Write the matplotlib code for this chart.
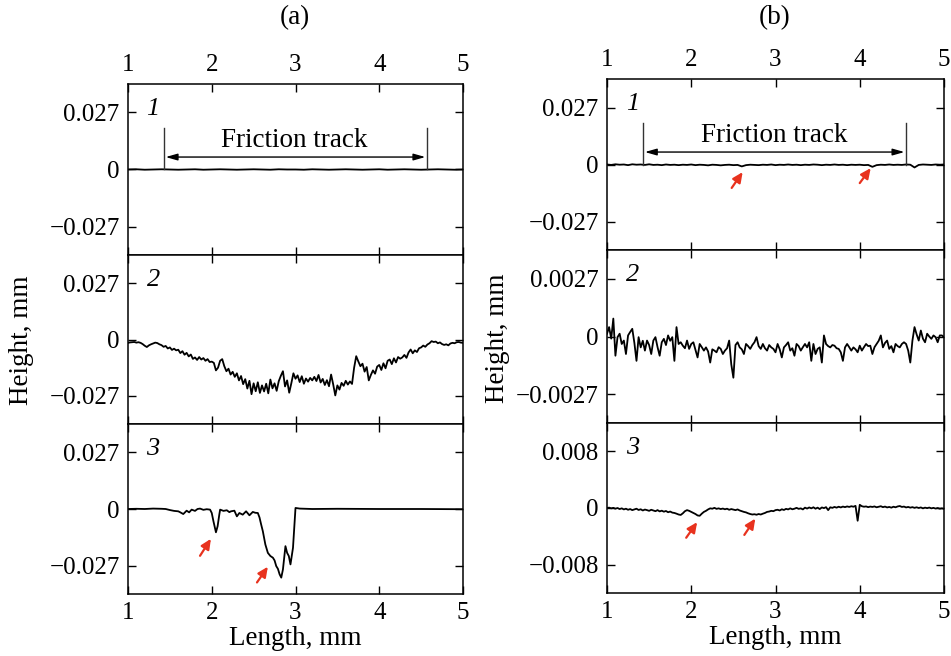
import numpy as np
import matplotlib
matplotlib.use('Agg')
import matplotlib.pyplot as plt

plt.rcParams['font.family'] = ['Liberation Serif', 'DejaVu Serif']
plt.rcParams['mathtext.fontset'] = 'stix'

# profile heights in micrometres, sampled evenly from 1 to 5 mm
a1_um = [0.0, 0.1, -0.1, 0.0, 0.1, 0.0, -0.1, 0.0, 0.1, -0.1, 0.0, 0.1, 0.0, -0.1,
         0.0, 0.1, 0.0, -0.1, 0.1, 0.0, 0.0, -0.1, 0.1, 0.0, -0.1, 0.0, 0.1, 0.0,
         -0.1, 0.0, 0.1, -0.1, 0.0, 0.1, 0.0, -0.1, 0.0, 0.1, 0.0, -0.1, 0.0]

a2_um = [-1.6, -1.4, -1.3, -1.2, -1.5, -1.3, -1.6, -2.2, -3.0, -3.6,
         -2.8, -2.3, -1.9, -1.5, -1.7, -2.3, -2.7, -3.5, -3.1, -4.3,
         -3.8, -5.0, -4.4, -5.2, -4.9, -6.5, -5.6, -7.3, -6.4, -8.1,
         -7.2, -9.3, -8.6, -9.8, -8.4, -9.6, -8.9, -10.2, -9.4, -10.8,
         -10.6, -11.2, -14.8, -13.5, -10.2, -9.4, -12.8, -15.2, -14.0, -16.8,
         -15.5, -17.9, -16.2, -19.6, -17.5, -21.4, -19.0, -23.5, -19.8, -26.2,
         -21.0, -24.8, -20.5, -25.6, -22.0, -24.9, -21.2, -25.8, -19.2, -23.4,
         -21.0, -24.6, -20.0, -17.4, -15.2, -22.5, -19.6, -25.5, -21.0, -16.2,
         -18.8, -17.2, -20.4, -17.6, -21.2, -18.7, -20.2, -18.4, -19.6, -17.9,
         -19.9, -17.0, -20.6, -18.9, -21.8, -19.5, -22.4, -16.8, -21.5, -26.8,
         -22.0, -24.0, -20.8, -22.2, -19.8, -21.6, -20.1, -21.3, -13.5, -8.0,
         -10.5, -12.8, -11.6, -15.4, -13.2, -19.6, -17.0, -14.8, -16.4, -13.0,
         -12.2, -14.6, -11.4, -13.8, -10.2, -9.6, -11.8, -9.0, -11.0, -8.4,
         -9.2, -8.6, -7.4, -8.8, -6.2, -4.8, -6.6, -5.2, -6.0, -4.2,
         -3.8, -2.9, -3.5, -2.4, -1.8, -0.8, -1.2, -1.0, -1.8, -1.4,
         -2.2, -2.6, -2.3, -2.8, -1.9, -1.6, -1.8, -1.3, -1.2, -1.5, -1.6]

a3_x = [1.0, 1.1, 1.2, 1.3, 1.4, 1.45, 1.5, 1.55, 1.6, 1.62, 1.66, 1.70, 1.73, 1.76,
        1.80, 1.83, 1.86, 1.90, 1.94, 1.98, 2.00, 2.02, 2.05, 2.07, 2.09, 2.10, 2.14,
        2.18, 2.21, 2.23, 2.27, 2.30, 2.33, 2.37, 2.41, 2.45, 2.49, 2.52, 2.55, 2.57,
        2.59, 2.61, 2.64, 2.67, 2.70, 2.73, 2.75, 2.77, 2.79, 2.81, 2.83, 2.85, 2.88,
        2.90, 2.92, 2.94, 2.97, 3.00, 3.05, 3.2, 3.5, 4.0, 4.5, 5.0]
a3_um = [0.0, 0.1, 0.0, 0.2, 0.1, 0.0, -0.5, -0.9, -1.1, -1.5, -2.4, -0.8, -1.6, -0.3,
         -0.9, 0.0, 0.2, -0.4, -0.1, -0.3, -1.9, -5.8, -11.1, -8.2, -2.7, -0.3, -0.9,
         -0.6, -1.5, -1.1, -0.8, -3.5, -1.9, -2.7, -1.1, -3.0, -1.4, -1.8, -1.9, -4.0,
         -7.4, -10.6, -16.9, -20.9, -22.4, -23.2, -24.5, -27.2, -28.5, -31.1, -32.7, -28.8, -17.7,
         -20.9, -22.4, -26.4, -18.5, 0.5, 0.2, 0.0, 0.1, 0.0, 0.0, -0.1]

b1_um = [0.0, -0.2, 0.1, -0.1, 0.0, -0.3, 0.1, -0.1, 0.0, -0.2, 0.1, -0.2, -0.1, -0.3,
         0.0, -0.2, -0.1, -0.3, -0.1, -0.2, 0.0, -0.3, -0.1, -0.2, -0.4, -0.1, -0.2,
         -0.4, -0.2, -0.1, -0.3, -0.2, -0.9, -0.3, -0.1, -0.2, -0.3, -0.1, -0.2, 0.0,
         -0.3, -0.1, -0.2, 0.0, -0.2, -0.1, -0.3, -0.1, -0.2, 0.0, -0.1, -0.3, -0.1,
         -0.2, 0.0, -0.2, -0.1, -0.3, -0.1, -0.2, -0.1, -0.3, -0.2, -1.1, -0.3, -0.1,
         -0.2, 0.0, -0.2, -0.1, -0.2, 0.0, -0.1, -1.4, -0.2, 0.0, -0.1, -0.2, 0.0, -0.1, 0.0]

b2_um = [0.13, 0.44, -0.10, 0.84, -0.90, -0.03, 0.13, -0.35, -0.19, -0.82,
         0.05, 0.21, 0.36, -0.30, -1.14, -0.03, -0.51, -0.20, -0.66, -0.19,
         -0.40, -0.82, -0.19, -0.03, -0.50, -0.90, -0.27, -0.11, -0.40, 0.05,
         -0.20, -0.03, -1.14, 0.44, -0.35, -0.27, -0.43, -0.55, -0.19, -0.58,
         -0.35, -0.27, -0.62, -0.98, -0.35, -0.50, -0.66, -0.51, -0.70, -1.22,
         -0.60, -0.66, -0.74, -0.50, -0.58, -0.82, -0.66, -0.55, -0.19, -1.30,
         -1.93, -0.40, -0.27, -0.51, -0.60, -0.82, -0.35, -0.45, -0.58, -0.40,
         -0.27, -0.03, -0.45, -0.58, -0.35, -0.55, -0.66, -0.40, -0.51, -0.58,
         -0.74, -0.35, -0.60, -0.98, -0.51, -0.40, -0.27, -0.66, -0.55, -0.90,
         -0.35, -0.45, -0.66, -0.50, -0.35, -0.51, -0.27, -1.14, -0.35, -0.82,
         -0.58, -0.51, -1.22, 0.05, -0.35, -0.45, -0.51, -0.40, -0.43, -0.55,
         -0.58, -0.74, -1.14, -0.51, -0.35, -0.50, -0.66, -0.51, -0.60, -0.74,
         -0.43, -0.66, -0.50, -0.35, -0.45, -0.43, -0.82, -0.50, -0.35, -0.20,
         0.05, -0.51, -0.30, -0.19, -0.58, -0.45, -0.74, -0.35, -0.45, -0.51,
         -0.35, -0.27, -0.35, -0.66, -1.22, -0.20, 0.44, 0.10, -0.19, 0.28,
         -0.10, -0.27, 0.13, 0.00, -0.11, 0.05, -0.03, -0.27, 0.05, 0.05, -0.03]

b3_um = [0.00, 0.05, -0.05, 0.02, -0.10, 0.00, -0.15, -0.05, -0.20, -0.10,
         -0.25, -0.15, -0.30, -0.20, -0.10, -0.28, -0.18, -0.35, -0.22, -0.30,
         -0.40, -0.25, -0.35, -0.45, -0.30, -0.48, -0.38, -0.52, -0.42, -0.60,
         -0.50, -0.65, -0.70, -0.80, -0.92, -0.98, -0.75, -0.45, -0.30, -0.40,
         -0.55, -0.70, -0.85, -1.05, -1.10, -0.80, -0.55, -0.40, -0.20, -0.05,
         -0.10, 0.02, -0.12, -0.05, -0.15, -0.08, -0.18, -0.10, -0.25, -0.15,
         -0.22, -0.30, -0.20, -0.35, -0.45, -0.55, -0.62, -0.75, -0.85, -0.92,
         -0.88, -0.95, -0.85, -0.92, -0.80, -0.70, -0.55, -0.50, -0.40, -0.45,
         -0.30, -0.25, -0.35, -0.18, -0.28, -0.12, -0.20, -0.05, -0.18, -0.10,
         0.02, -0.12, -0.05, -0.20, 0.05, -0.08, 0.08, -0.05, 0.10, -0.10,
         0.05, -0.15, 0.08, -0.02, 0.12, -0.30, 0.10, 0.02, 0.15, 0.05,
         0.18, 0.08, 0.20, 0.12, 0.22, 0.15, 0.25, 0.18, 0.30, -1.80,
         0.45, 0.25, 0.18, 0.22, 0.12, 0.20, 0.15, 0.22, 0.10, 0.18,
         0.25, 0.12, 0.20, 0.08, 0.15, 0.05, 0.18, 0.10, 0.22, 0.28,
         0.15, 0.20, 0.08, 0.15, 0.05, 0.12, 0.02, 0.10, 0.00, 0.08,
         -0.05, 0.05, -0.02, 0.06, -0.05, 0.02, -0.08, 0.00, -0.10, -0.05, -0.12]

# y tick values/labels of each row
ticks_a = [0.027, 0, -0.027]
labels_a = ['0.027', '0', '\u22120.027']
ticks_b2 = [0.0027, 0, -0.0027]
labels_b2 = ['0.0027', '0', '\u22120.0027']
ticks_b3 = [0.008, 0, -0.008]
labels_b3 = ['0.008', '0', '\u22120.008']
x_ticks = [1, 2, 3, 4, 5]

# red arrows (tail x, tail y, head x, head y) in data units
arrows_b1 = [(2.48, -0.0111, 2.61, -0.0036), (4.00, -0.0088, 4.13, -0.0017)]
arrows_a3 = [(1.86, -0.0223, 1.99, -0.0142), (2.54, -0.0350, 2.67, -0.0275)]
arrows_b3 = [(1.94, -0.0042, 2.07, -0.0020), (2.63, -0.0038, 2.76, -0.0015)]

W, H = 951, 656
fig = plt.figure(figsize=(W / 100, H / 100), dpi=100)


def box(x0, x1, y0, y1):
    return [x0 / W, 1 - y1 / H, (x1 - x0) / W, (y1 - y0) / H]


axes_a = [fig.add_axes(box(128, 463, 84, 255)),
          fig.add_axes(box(128, 463, 255, 424)),
          fig.add_axes(box(128, 463, 424, 594))]
axes_b = [fig.add_axes(box(607, 944, 79, 250)),
          fig.add_axes(box(607, 944, 250, 423)),
          fig.add_axes(box(607, 944, 423, 593))]

lw = 1.3
# left column
axes_a[0].plot(np.linspace(1, 5, len(a1_um)), np.array(a1_um) / 1000, color='black', lw=lw)
axes_a[1].plot(np.linspace(1, 5, len(a2_um)), np.array(a2_um) / 1000, color='black', lw=lw)
axes_a[2].plot(a3_x, np.array(a3_um) / 1000, color='black', lw=lw)
# right column
axes_b[0].plot(np.linspace(1, 5, len(b1_um)), np.array(b1_um) / 1000, color='black', lw=lw)
axes_b[1].plot(np.linspace(1, 5, len(b2_um)), np.array(b2_um) / 1000, color='black', lw=lw)
axes_b[2].plot(np.linspace(1, 5, len(b3_um)), np.array(b3_um) / 1000, color='black', lw=lw)

ylims = [0.0405, 0.0405, 0.0405, 0.0405, 0.00405, 0.012]
yticks = [ticks_a, ticks_a, ticks_a, ticks_a, ticks_b2, ticks_b3]
ylabels = [labels_a, labels_a, labels_a, labels_a, labels_b2, labels_b3]

for k, ax in enumerate(axes_a + axes_b):
    row = k % 3
    ax.set_xlim(1, 5)
    ax.set_ylim(-ylims[k], ylims[k])
    ax.set_xticks(x_ticks)
    ax.set_xticklabels([str(t) for t in x_ticks])
    ax.set_yticks(yticks[k])
    ax.set_yticklabels(ylabels[k])
    ax.tick_params(direction='in', length=6, width=1.0, labelsize=18,
                   top=True, right=True, pad=6,
                   labeltop=(row == 0), labelbottom=(row == 2))
    for s in ax.spines.values():
        s.set_linewidth(1.1)
    ax.text(0.075, 0.855, str(row + 1), transform=ax.transAxes, fontsize=19,
            style='italic', ha='center', va='center')
    if row == 2:
        ax.set_xlabel('Length, mm', fontsize=19.5, labelpad=1)

# friction track markers on the top panels
for ax, xr in [(axes_a[0], 4.57), (axes_b[0], 4.55)]:
    ax.plot([1.43, 1.43], [0, 0.0197], color='#333333', lw=1.0)
    ax.plot([xr, xr], [0, 0.0197], color='#333333', lw=1.0)
    ax.annotate('', xy=(1.45, 0.0059), xytext=(xr - 0.02, 0.0059),
                arrowprops=dict(arrowstyle='<|-|>,head_length=0.7,head_width=0.2',
                                color='black', lw=1.0, shrinkA=0, shrinkB=0))
    ax.text(2.99, 0.0138, 'Friction track', fontsize=19.5, ha='center', va='center')

# red arrows
for ax, arrs in [(axes_b[0], arrows_b1), (axes_a[2], arrows_a3), (axes_b[2], arrows_b3)]:
    for x0, y0, x1, y1 in arrs:
        ax.annotate('', xy=(x1, y1), xytext=(x0, y0),
                    arrowprops=dict(arrowstyle='-|>,head_length=0.6,head_width=0.28',
                                    color='#e8321e', lw=1.6, shrinkA=0, shrinkB=0))

fig.text(22 / W, 1 - 340 / H, 'Height, mm', rotation=90, fontsize=19.5, ha='center', va='center')
fig.text(497 / W, 1 - 338 / H, 'Height, mm', rotation=90, fontsize=19.5, ha='center', va='center')
fig.text(295 / W, 1 - 18 / H, '(a)', fontsize=19.5, ha='center', va='center')
fig.text(775 / W, 1 - 18 / H, '(b)', fontsize=19.5, ha='center', va='center')

fig.savefig('out.png', dpi=100)
